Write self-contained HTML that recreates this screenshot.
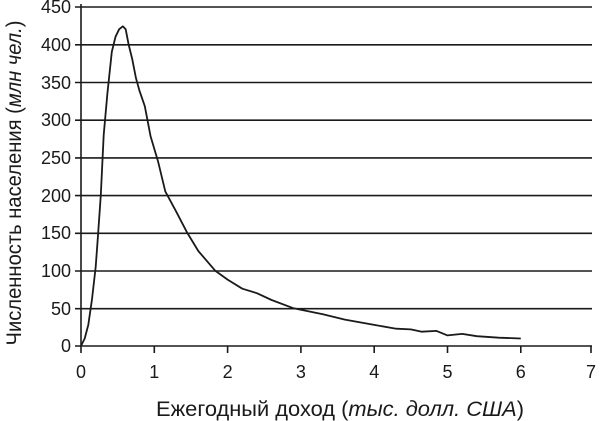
<!DOCTYPE html>
<html><head><meta charset="utf-8"><style>
html,body{margin:0;padding:0;background:#fff;width:600px;height:421px;overflow:hidden}
svg text{font-family:"Liberation Sans","DejaVu Sans",sans-serif;fill:#1a1a1a}
</style></head><body>
<svg id="s" width="600" height="421" viewBox="0 0 600 421" xmlns="http://www.w3.org/2000/svg">
<g stroke="#1a1a1a" stroke-width="1.6" fill="none">
<line x1="81" y1="4" x2="81" y2="346"/>
<line x1="75" y1="346" x2="592" y2="346"/>
<line x1="75" y1="308.7" x2="592" y2="308.7"/>
<line x1="75" y1="271" x2="592" y2="271"/>
<line x1="75" y1="233.3" x2="592" y2="233.3"/>
<line x1="75" y1="195.6" x2="592" y2="195.6"/>
<line x1="75" y1="157.9" x2="592" y2="157.9"/>
<line x1="75" y1="120.2" x2="592" y2="120.2"/>
<line x1="75" y1="82.5" x2="592" y2="82.5"/>
<line x1="75" y1="44.8" x2="592" y2="44.8"/>
<line x1="75" y1="7" x2="592" y2="7"/>
<line x1="81" y1="346" x2="81" y2="353"/>
<line x1="154.3" y1="346" x2="154.3" y2="353"/>
<line x1="227.6" y1="346" x2="227.6" y2="353"/>
<line x1="300.9" y1="346" x2="300.9" y2="353"/>
<line x1="374.2" y1="346" x2="374.2" y2="353"/>
<line x1="447.5" y1="346" x2="447.5" y2="353"/>
<line x1="520.8" y1="346" x2="520.8" y2="353"/>
<line x1="591" y1="346" x2="591" y2="353"/>
<polyline id="c" stroke-width="1.8" stroke-linejoin="round"/>
</g>
<g font-size="18" text-anchor="end">
<text x="71" y="352">0</text><text x="71" y="315">50</text><text x="71" y="277">100</text>
<text x="71" y="239">150</text><text x="71" y="202">200</text><text x="71" y="164">250</text>
<text x="71" y="126">300</text><text x="71" y="89">350</text><text x="71" y="51">400</text>
<text x="71" y="13">450</text>
</g>
<g font-size="18" text-anchor="middle">
<text x="81" y="378">0</text><text x="154.3" y="378">1</text><text x="227.6" y="378">2</text>
<text x="300.9" y="378">3</text><text x="374.2" y="378">4</text><text x="447.5" y="378">5</text>
<text x="520.8" y="378">6</text><text x="591" y="378">7</text>
</g>
<text x="340" y="416" font-size="21" text-anchor="middle" textLength="368" lengthAdjust="spacingAndGlyphs">Ежегодный доход (<tspan font-style="italic">тыс. долл. США</tspan>)</text>
<text transform="translate(21,183) rotate(-90)" font-size="21" text-anchor="middle" textLength="325" lengthAdjust="spacingAndGlyphs">Численность населения (<tspan font-style="italic">млн чел.</tspan>)</text>
</svg>
<script>
var d=[[0,0],[0.05,10],[0.1,28],[0.15,62],[0.2,105],[0.23,145],[0.27,200],[0.31,280],[0.36,335],[0.42,390],[0.47,410],[0.52,420],[0.57,424],[0.61,420],[0.65,400],[0.7,380],[0.75,355],[0.8,338],[0.87,318],[0.95,278],[1.05,245],[1.15,205],[1.3,178],[1.45,150],[1.6,126],[1.83,100],[2.0,88],[2.2,76],[2.4,70],[2.6,61],[2.9,50],[3.1,46],[3.3,42],[3.6,35],[4.0,28],[4.3,23],[4.5,22],[4.65,19],[4.85,20],[5.0,14],[5.2,16],[5.4,13],[5.7,11],[6.0,10]];
document.getElementById('c').setAttribute('points',d.map(function(p){return (81+p[0]*73.3).toFixed(1)+','+(346-p[1]*0.7541).toFixed(1)}).join(' '));
</script>
</body></html>
